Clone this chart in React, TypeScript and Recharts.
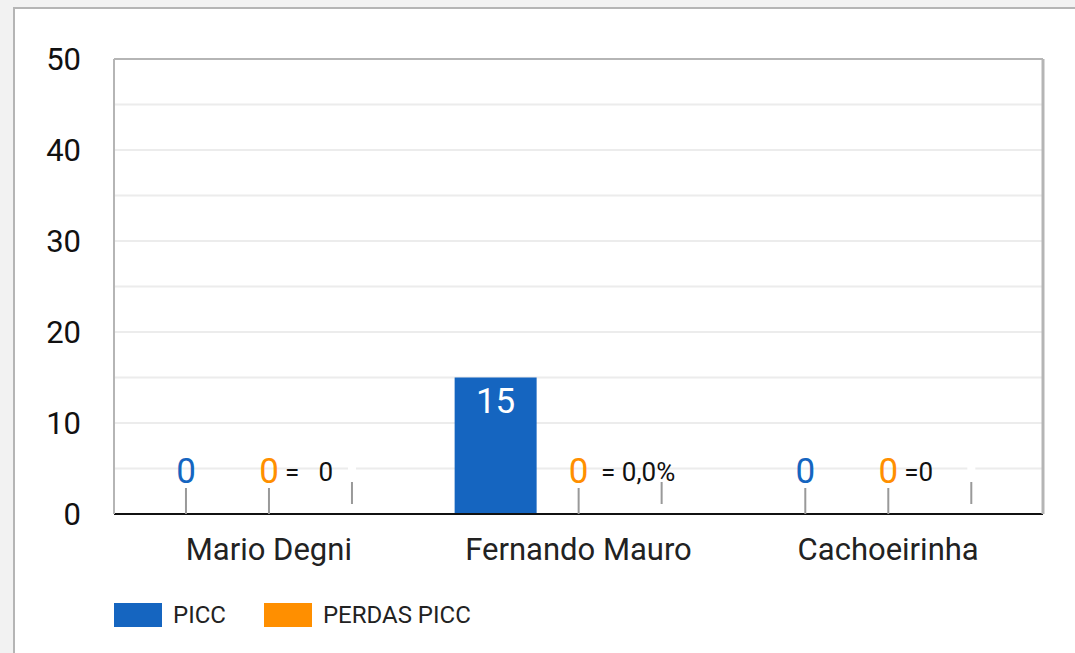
import React from 'react';
import { BarChart, Bar, XAxis, YAxis, CartesianGrid, Legend } from 'recharts';

const categories = ['Mario Degni', 'Fernando Mauro', 'Cachoeirinha'];
const piccValues = [0, 15, 0];
const perdasValues = [0, 0, 0];
const hiddenValues = [0, 0, 0];
const notes = ['=   0', ' = 0,0%', '=0'];
const gridValues = [0, 5, 10, 15, 20, 25, 30, 35, 40, 45, 50];
const legendOrder = ['picc', 'perdas'];

const BLUE = '#1565c0';
const ORANGE = '#ff8f00';
const FONT = 'Roboto, sans-serif';

const data = categories.map((name, i) => ({
  name,
  picc: piccValues[i],
  perdas: perdasValues[i],
  hidden: hiddenValues[i],
}));

// value label: zero values sit above the axis with a leader line, others inside the bar
const valueLabel = (props: any, color: string) => {
  const { x, y, width, height, value } = props;
  const cx = x + width / 2;
  const base = y + height;
  if (value > 0) {
    return (
      <text x={cx} y={y + 35} textAnchor="middle" fill="#fff" fontSize={35} fontFamily={FONT}>
        {value}
      </text>
    );
  }
  return (
    <g>
      <line x1={cx} x2={cx} y1={base - 26} y2={base} stroke="#999" strokeWidth={2} />
      <text x={cx} y={base - 31} textAnchor="middle" fill={color} fontSize={35} fontFamily={FONT}>
        {value}
      </text>
    </g>
  );
};

// third (invisible) series: stem line plus the note text, drawn on top
const hiddenLabel = (props: any) => {
  const { x, y, width, height, index } = props;
  const cx = x + width / 2;
  const base = y + height;
  const prevCx = cx - width - 1;
  return (
    <g>
      <rect x={cx - 4} y={base - 52} width={8} height={8} fill="#fff" />
      <line x1={cx} x2={cx} y1={base - 32} y2={base - 10} stroke="#999" strokeWidth={2} />
      <text x={prevCx + 16} y={base - 33} fill="#111" fontSize={26} fontFamily={FONT} style={{ whiteSpace: 'pre' }}>
        {notes[index]}
      </text>
    </g>
  );
};

const renderLegend = ({ payload }: any) => {
  const items = (payload || [])
    .filter((e: any) => legendOrder.includes(e.dataKey))
    .sort((a: any, b: any) => legendOrder.indexOf(a.dataKey) - legendOrder.indexOf(b.dataKey));
  return (
    <div style={{ display: 'flex', alignItems: 'center', fontFamily: FONT }}>
      {items.map((entry: any) => (
        <div key={entry.value} style={{ display: 'flex', alignItems: 'center', marginRight: 38 }}>
          <span style={{ display: 'inline-block', width: 48, height: 24, background: entry.color, marginRight: 11 }} />
          <span style={{ fontSize: 24, color: '#222' }}>{entry.value}</span>
        </div>
      ))}
    </div>
  );
};

export default function App() {
  return (
    <div style={{ position: 'absolute', left: 0, top: 0, width: 1075, height: 653, background: '#f2f2f2', overflow: 'hidden' }}>
      <div
        style={{
          position: 'absolute',
          left: 13,
          top: 7,
          width: 1100,
          height: 700,
          background: '#fff',
          borderLeft: '2px solid #b5b5b5',
          borderTop: '2px solid #b5b5b5',
        }}
      />
      <div style={{ position: 'absolute', left: 0, top: 0 }}>
        <BarChart
          width={1075}
          height={653}
          data={data}
          margin={{ top: 57, right: 30, left: 54, bottom: 79 }}
          barCategoryGap="10%"
          barGap={1}
          style={{ fontFamily: FONT }}
        >
          <CartesianGrid vertical={false} stroke="#ececec" strokeWidth={2} />
          <XAxis
            dataKey="name"
            height={60}
            tickSize={0}
            tickMargin={24}
            axisLine={{ stroke: '#111', strokeWidth: 2 }}
            tick={{ fontSize: 31, fill: '#222' }}
          />
          <XAxis
            xAxisId="top"
            dataKey="name"
            orientation="top"
            height={2}
            tick={false}
            tickLine={false}
            axisLine={{ stroke: '#b5b5b5', strokeWidth: 2 }}
          />
          <YAxis
            width={60}
            domain={[0, 50]}
            ticks={gridValues}
            interval={0}
            tickFormatter={(v: number) => (v % 10 === 0 ? String(v) : '')}
            tickSize={0}
            tickMargin={33}
            axisLine={{ stroke: '#b5b5b5', strokeWidth: 2 }}
            tick={{ fontSize: 31, fill: '#111' }}
          />
          <YAxis
            yAxisId="right"
            orientation="right"
            width={2}
            domain={[0, 50]}
            tick={false}
            tickLine={false}
            axisLine={{ stroke: '#b5b5b5', strokeWidth: 3 }}
          />
          <Legend
            layout="horizontal"
            verticalAlign="middle"
            align="center"
            content={renderLegend}
            wrapperStyle={{ left: 114, top: 601, width: 600 }}
          />
          <Bar dataKey="picc" name="PICC" fill={BLUE} minPointSize={1} isAnimationActive={false} label={(p: any) => valueLabel(p, BLUE)} />
          <Bar dataKey="perdas" name="PERDAS PICC" fill={ORANGE} minPointSize={1} isAnimationActive={false} label={(p: any) => valueLabel(p, ORANGE)} />
          <Bar dataKey="hidden" name="hidden" fill="transparent" minPointSize={1} legendType="none" isAnimationActive={false} label={hiddenLabel} />
        </BarChart>
      </div>
    </div>
  );
}
